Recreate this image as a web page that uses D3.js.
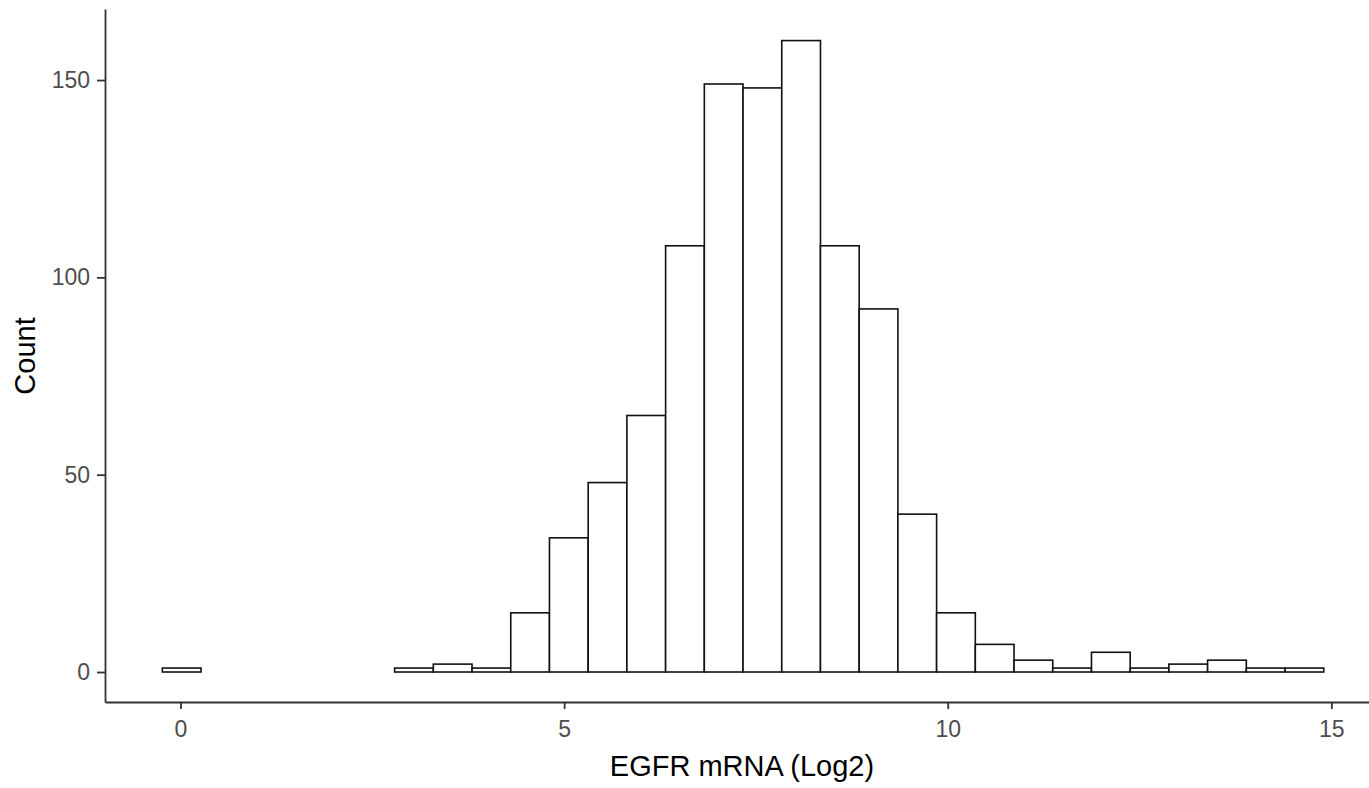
<!DOCTYPE html>
<html>
<head>
<meta charset="utf-8">
<script src="https://cdn.jsdelivr.net/npm/d3@7"></script>
<style>
  body { margin: 0; background: #fff; }
  text { font-family: "Liberation Sans", Arial, sans-serif; }
</style>
</head>
<body>
<svg id="chart" width="1369" height="788"></svg>
<script>
// histogram bins: 30 equal bins, first edge and width
var binStart = -0.237
var binWidth = 0.5046
var counts = [1, 0, 0, 0, 0, 0, 1, 2, 1, 15, 34, 48, 65, 108, 149, 148, 160, 108, 92, 40, 15, 7, 3, 1, 5, 1, 2, 3, 1, 1]
var xTicks = [0, 5, 10, 15]
var yTicks = [0, 50, 100, 150]
var xTitle = "EGFR mRNA (Log2)"
var yTitle = "Count"

var svg = d3.select("#chart")

var x = d3.scaleLinear().domain([-0.984, 15.66]).range([105, 1382])
var y = d3.scaleLinear().domain([-7.6, 168]).range([702, 9])

var bins = counts.map(function (c, i) {
    return { x0: binStart + i * binWidth, x1: binStart + (i + 1) * binWidth, count: c }
})

// bars
svg.append("g").selectAll("rect")
    .data(bins)
    .enter()
    .append("rect")
    .attr("x", function (d) { return x(d.x0) })
    .attr("y", function (d) { return y(d.count) })
    .attr("width", function (d) { return x(d.x1) - x(d.x0) })
    .attr("height", function (d) { return y(0) - y(d.count) })
    .attr("fill", "#fff")
    .attr("stroke", "#111")
    .attr("stroke-width", 1.6)

// x axis
var xAxis = svg.append("g")
    .attr("transform", "translate(0," + y.range()[0] + ")")
    .call(d3.axisBottom(x).tickValues(xTicks).tickSizeInner(7).tickSizeOuter(0).tickPadding(12))
    .attr("font-size", 23)
    .attr("font-family", "Liberation Sans, Arial, sans-serif")
xAxis.select(".domain").attr("stroke", "#333").attr("stroke-width", 1.8)
xAxis.selectAll(".tick line").attr("stroke", "#333").attr("stroke-width", 1.8)
xAxis.selectAll("text").attr("fill", "#4d4d4d")

// y axis
var yAxis = svg.append("g")
    .attr("transform", "translate(" + x.range()[0] + ",0)")
    .call(d3.axisLeft(y).tickValues(yTicks).tickSizeInner(8).tickSizeOuter(0).tickPadding(7))
    .attr("font-size", 23)
    .attr("font-family", "Liberation Sans, Arial, sans-serif")
yAxis.select(".domain").attr("stroke", "#333").attr("stroke-width", 1.8)
yAxis.selectAll(".tick line").attr("stroke", "#333").attr("stroke-width", 1.8)
yAxis.selectAll("text").attr("fill", "#4d4d4d")

// titles
svg.append("text")
    .attr("x", 742)
    .attr("y", 776)
    .attr("text-anchor", "middle")
    .attr("font-size", 29)
    .attr("fill", "#000")
    .text(xTitle)

svg.append("text")
    .attr("transform", "translate(35,356) rotate(-90)")
    .attr("text-anchor", "middle")
    .attr("font-size", 29)
    .attr("fill", "#000")
    .text(yTitle)
</script>
</body>
</html>
